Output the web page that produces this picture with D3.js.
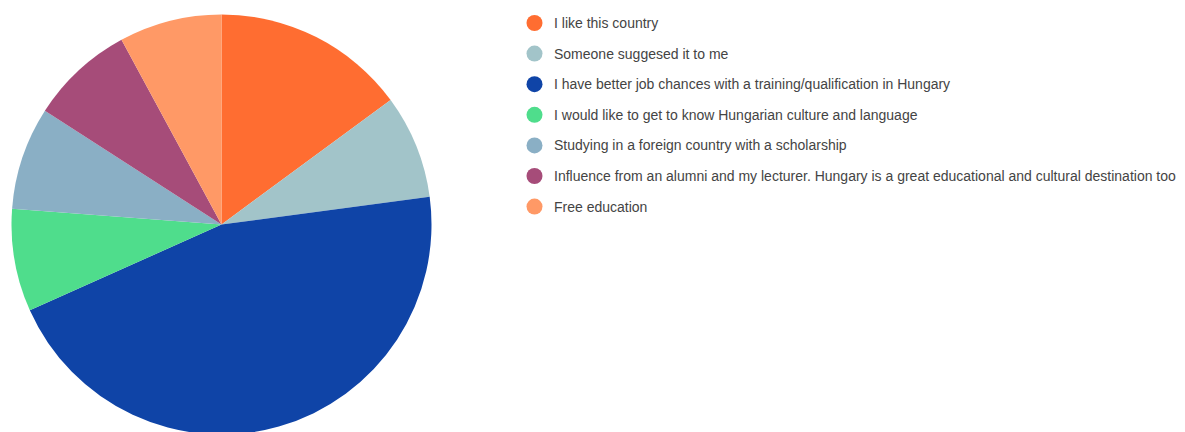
<!DOCTYPE html>
<html>
<head>
<meta charset="utf-8">
<script src="https://cdn.jsdelivr.net/npm/d3@7"></script>
<style>
  html, body { margin: 0; padding: 0; background: #fff; }
  svg { display: block; }
</style>
</head>
<body>
<svg id="chart" width="1185" height="432"></svg>
<script>
// Reasons for choosing to study in Hungary (share of responses)
const categories = [
  "I like this country",
  "Someone suggesed it to me",
  "I have better job chances with a training/qualification in Hungary",
  "I would like to get to know Hungarian culture and language",
  "Studying in a foreign country with a scholarship",
  "Influence from an alumni and my lecturer. Hungary is a great educational and cultural destination too",
  "Free education"
];
const values = [14.9, 8.0, 45.4, 7.9, 7.9, 8.0, 7.9];
const colors = ["#ff6d31", "#a2c4c9", "#0f44a7", "#4fdd8c", "#8aafc5", "#a64c79", "#ff9966"];

const data = categories.map((c, i) => ({ label: c, value: values[i], color: colors[i] }));

const svg = d3.select("#chart");
const cx = 221.5, cy = 224.5, radius = 210;

const pie = d3.pie().value(d => d.value).sort(null);
const arc = d3.arc().innerRadius(0).outerRadius(radius);

svg.append("g")
  .attr("transform", `translate(${cx},${cy})`)
  .selectAll("path")
  .data(pie(data))
  .join("path")
  .attr("d", arc)
  .attr("fill", d => d.data.color);

// Legend
const legendY = d3.scaleBand()
  .domain(categories)
  .range([7.7, 7.7 + 30.6 * categories.length]);

const legend = svg.append("g");
const rows = legend.selectAll("g")
  .data(data)
  .join("g")
  .attr("transform", d => `translate(534.5,${legendY(d.label) + legendY.bandwidth() / 2})`);

rows.append("circle")
  .attr("r", 8)
  .attr("fill", d => d.color);

rows.append("text")
  .attr("x", 19.5)
  .attr("y", 5)
  .attr("font-family", "'Liberation Sans', Arial, sans-serif")
  .attr("font-size", 14)
  .attr("fill", "#444")
  .text(d => d.label);
</script>
</body>
</html>
